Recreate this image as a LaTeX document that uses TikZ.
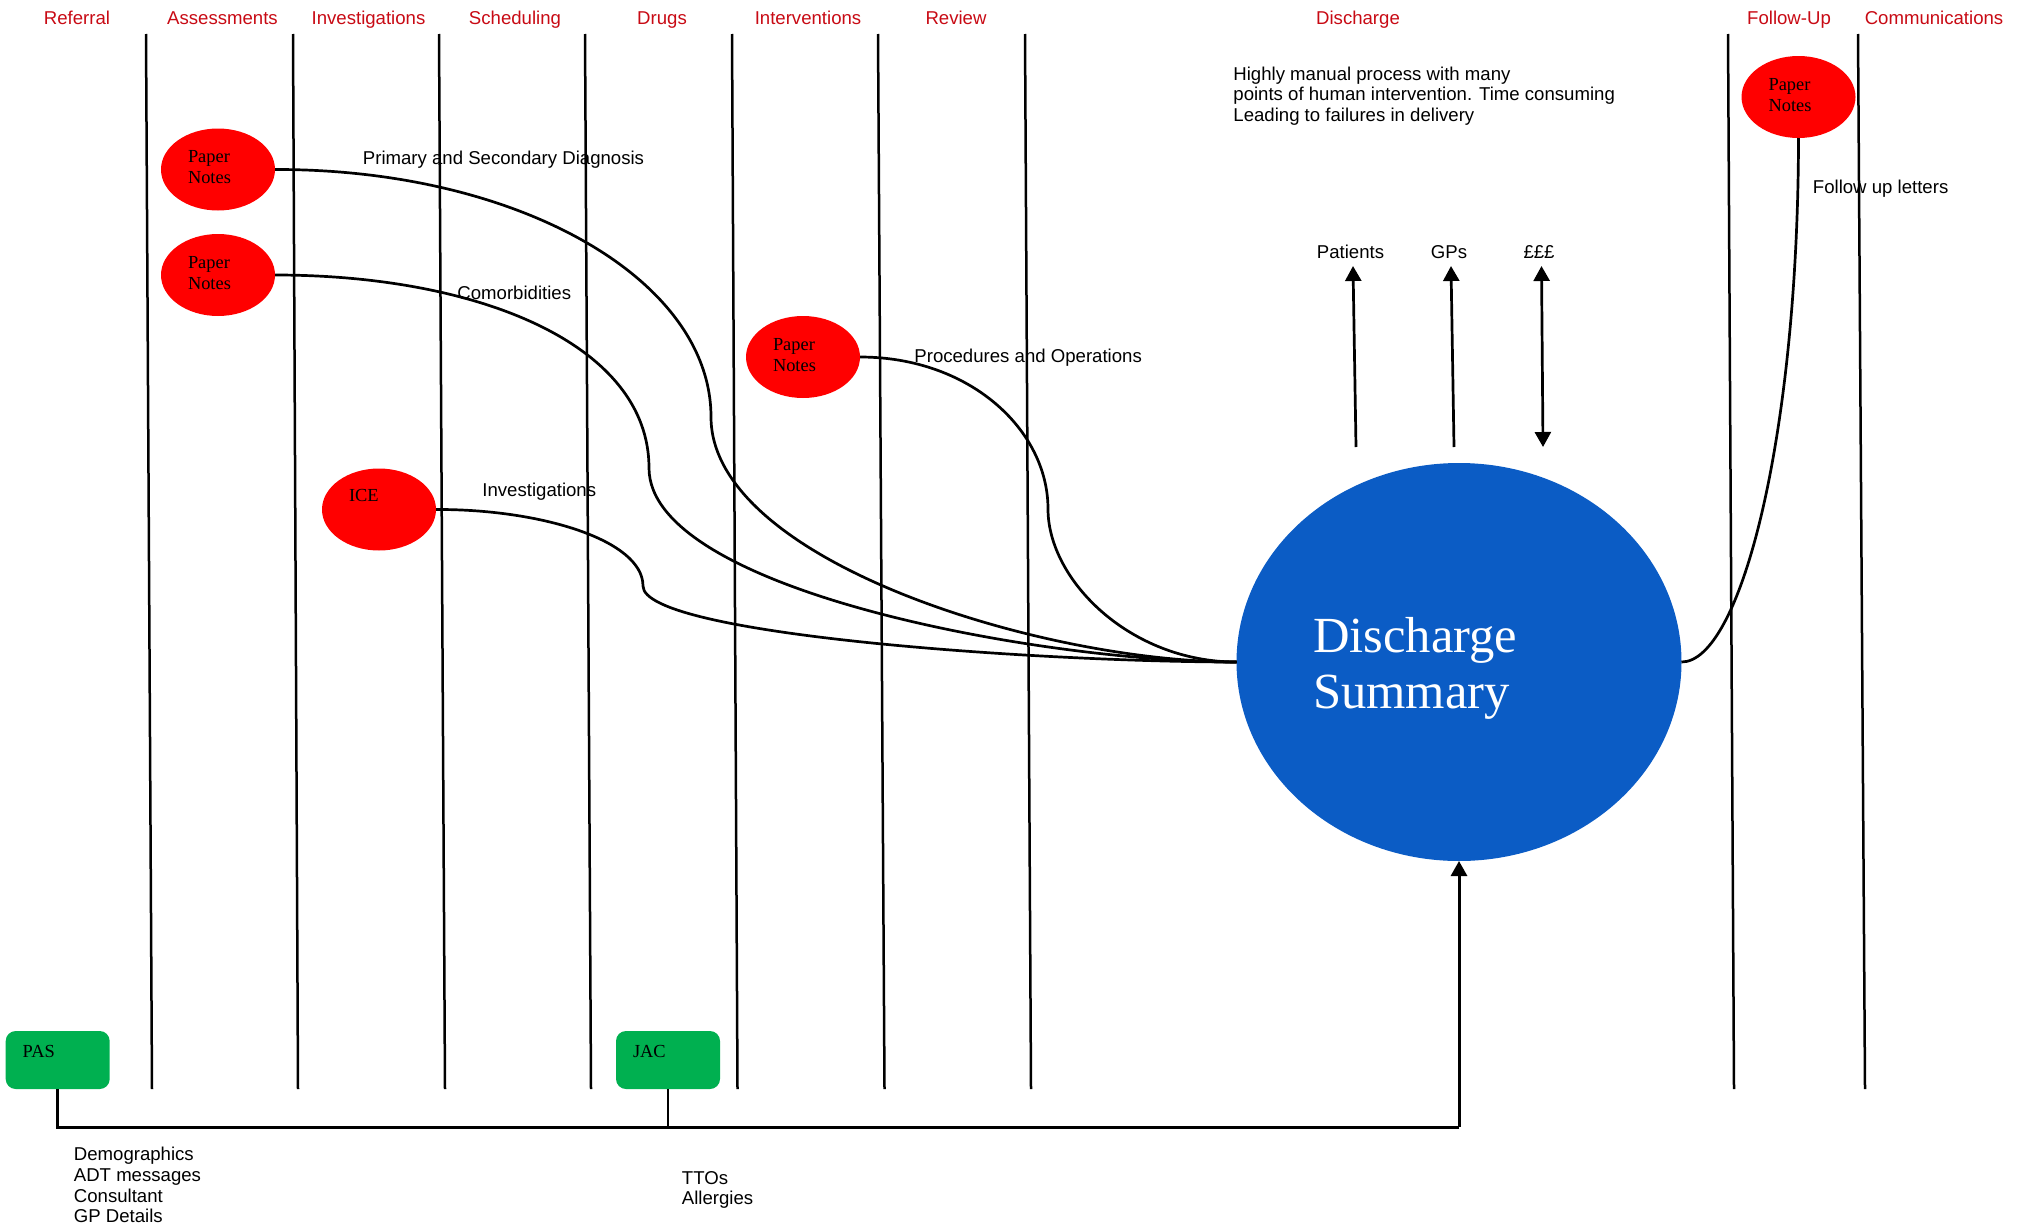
\documentclass[tikz,border=0pt]{standalone}
\usepackage{fontspec}
\setmainfont{Liberation Serif}
\setsansfont{Liberation Sans}
\usetikzlibrary{shapes.geometric,arrows.meta}
\definecolor{hdrred}{HTML}{C80A14}
\definecolor{bigblue}{HTML}{0B5CC5}
\definecolor{sysgreen}{HTML}{00B050}
\newcommand{\placedtext}[2]{\raisebox{#1}[0pt][0pt]{\vbox{#2}}}
\tikzset{
  hdr/.style={text=hdrred,font=\sffamily\fontsize{9.3}{11}\selectfont,inner sep=0pt,anchor=base},
  lab/.style={text=black,font=\sffamily\fontsize{9.3}{10.35}\selectfont,inner sep=0pt,anchor=west,align=left},
  labc/.style={text=black,font=\sffamily\fontsize{9.3}{10.35}\selectfont,inner sep=0pt,anchor=center},
  source/.style={shape=ellipse,fill=red,draw=none,inner sep=0pt,outer sep=0pt,minimum width=57pt,minimum height=41pt,text width=30pt,align=left,font=\rmfamily\fontsize{9.2}{10.35}\selectfont},
  sysbox/.style={shape=rectangle,rounded corners=5pt,fill=sysgreen,draw=none,inner sep=0pt,outer sep=0pt,minimum width=52pt,minimum height=29pt,text width=35pt,align=left,font=\rmfamily\fontsize{9.2}{10.35}\selectfont},
  lane/.style={line width=1.25pt,black},
  link/.style={line width=1.35pt,black},
  tip/.style={-{Triangle[length=7.5pt,width=8pt]}},
  tips/.style={{Triangle[length=7.5pt,width=8pt]}-{Triangle[length=7.5pt,width=8pt]}}
}
\begin{document}
\begin{tikzpicture}[x=0.5pt,y=-0.5pt]
\useasboundingbox (0,0) rectangle (2028,1226);
% headers
\node[hdr] (hRef) at (77,24.8) {Referral};
\node[hdr] (hAss) at (222.5,24.8) {Assessments};
\node[hdr] (hInv) at (368.5,24.8) {Investigations};
\node[hdr] (hSch) at (515,24.8) {Scheduling};
\node[hdr] (hDru) at (662,24.8) {Drugs};
\node[hdr] (hInt) at (808,24.8) {Interventions};
\node[hdr] (hRev) at (956,24.8) {Review};
\node[hdr] (hDis) at (1358,24.8) {Discharge};
\node[hdr] (hFol) at (1789,24.8) {Follow-Up};
\node[hdr] (hCom) at (1934,24.8) {Communications};
% swimlane separators
\coordinate (t1) at (146,34);   \coordinate (b1) at (152,1089);
\coordinate (t2) at (293,34);   \coordinate (b2) at (298,1089);
\coordinate (t3) at (439,34);   \coordinate (b3) at (445,1089);
\coordinate (t4) at (585,34);   \coordinate (b4) at (591,1089);
\coordinate (t5) at (732,34);   \coordinate (b5) at (737.5,1089);
\coordinate (t6) at (878,34);   \coordinate (b6) at (884.5,1089);
\coordinate (t7) at (1025,34);  \coordinate (b7) at (1031,1089);
\coordinate (t8) at (1728,34);  \coordinate (b8) at (1734,1089);
\coordinate (t9) at (1858,34);  \coordinate (b9) at (1865,1089);
\foreach \i in {1,...,9} \draw[lane] (t\i) -- (b\i);
% nodes
\node[shape=ellipse,fill=bigblue,draw=none,inner sep=0pt,outer sep=0pt,minimum width=222.5pt,minimum height=199pt,text width=146pt,align=left,text=white,font=\rmfamily\fontsize{25.3}{28}\selectfont] (big) at (1459,662) {\placedtext{-23pt}{\hbox{Discharge}\hbox{Summary}}};
\node[source] (n1) at (218,169.5) {\placedtext{-6.75pt}{\hbox{Paper}\hbox{Notes}}};
\node[source] (n2) at (218,275) {\placedtext{-7.1pt}{\hbox{Paper}\hbox{Notes}}};
\node[source] (n3) at (803,357) {\placedtext{-7.1pt}{\hbox{Paper}\hbox{Notes}}};
\node[source] (n4) at (379,509.5) {\placedtext{4.25pt}{\hbox{ICE}}};
\node[source] (n5) at (1798.5,97) {\placedtext{-7pt}{\hbox{Paper}\hbox{Notes}}};
\node[sysbox] (pas) at (57.7,1060) {\placedtext{1.5pt}{\hbox{PAS}}};
\node[sysbox] (jac) at (668,1060) {\placedtext{1.5pt}{\hbox{JAC}}};
% curves
\coordinate (m1) at (711,417);
\coordinate (m2) at (649,468);
\coordinate (m3) at (643,586);
\coordinate (m4) at (1048,509);
\draw[link] (n1.east) .. controls (520,169) and (711,280) .. (m1) .. controls (711,560) and (1040,662) .. (big.west);
\draw[link] (n2.east) .. controls (480,275) and (649,345) .. (m2) .. controls (649,590) and (1040,662) .. (big.west);
\draw[link] (n4.east) .. controls (540,509) and (643,540) .. (m3) .. controls (643,635) and (1040,662) .. (big.west);
\draw[link] (n3.east) .. controls (970,357) and (1048,430) .. (m4) .. controls (1048,580) and (1130,662) .. (big.west);
\draw[link] (big.east) .. controls (1740,662) and (1798,440) .. (n5.south);
% outbound arrows
\coordinate (pa0) at (1356,447); \coordinate (pa1) at (1353,266);
\coordinate (gp0) at (1454,447); \coordinate (gp1) at (1451,266);
\coordinate (mo0) at (1543,447); \coordinate (mo1) at (1541.5,266);
\draw[link,tip] (pa0) -- (pa1);
\draw[link,tip] (gp0) -- (gp1);
\draw[link,tips] (mo0) -- (mo1);
% feeds
\coordinate (busL) at (57.7,1127);
\coordinate (busJ) at (668,1127);
\coordinate (busR) at (1459,1127);
\draw[link,line width=1.5pt] (pas.south) -- (busL) -- (busR);
\draw[link] (jac.south) -- (busJ);
\draw[link,line width=1.5pt,tip] (busR) -- (big.south);
% labels
\node[lab] (l1) at (362.5,160) {Primary and Secondary Diagnosis};
\node[lab] (l2) at (457,293) {Comorbidities};
\node[lab] (l3) at (914,358) {Procedures and Operations};
\node[lab] (l4) at (482,492) {Investigations};
\node[lab] (l5) at (1812.5,188.5) {Follow up letters};
\node[lab] (l6) at (1233,96) {Highly manual process with many\\points of human intervention. Time consuming\\Leading to failures in delivery};
\node[lab] (l7) at (73.5,1185) {Demographics\\ADT messages\\Consultant\\GP Details};
\node[lab] (l8) at (681.5,1190) {TTOs\\Allergies};
\node[labc] (l9) at (1350.5,252) {Patients};
\node[labc] (l10) at (1449,252) {GPs};
\node[labc] (l11) at (1539,252) {£££};
\end{tikzpicture}
\end{document}
